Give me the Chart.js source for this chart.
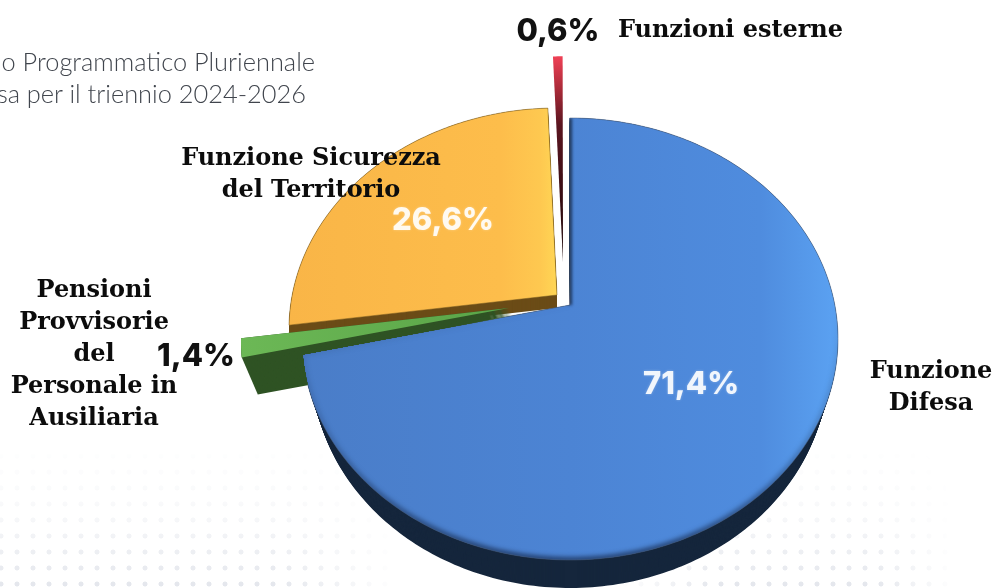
<!DOCTYPE html>
<html><head><meta charset="utf-8">
<script src="https://cdn.jsdelivr.net/npm/chart.js@4"></script>
<style>
html,body{margin:0;padding:0;background:#fff;overflow:hidden}
#wrap{position:relative;width:995px;height:588px;overflow:hidden;background:#fff}
#dots{position:absolute;left:0;top:440px;width:995px;height:148px;
 background-image:radial-gradient(circle,#d5d9e2 0 2.2px,transparent 2.8px);background-size:16px 16px;background-position:-7px 8px;
 -webkit-mask-image:linear-gradient(to bottom,transparent 0,rgba(0,0,0,.18) 50%,rgba(0,0,0,.65) 100%),linear-gradient(to right,#000 0,#000 28%,transparent 40%,transparent 62%,#000 72%,#000 88%,transparent 96%);
 -webkit-mask-composite:source-in;mask-composite:intersect}
canvas{position:absolute;left:0;top:0}
.t{position:absolute;white-space:nowrap;line-height:1}
.c{transform:translate(-50%,-50%);text-align:center}
.s{font-family:"DejaVu Serif";font-weight:700;font-size:24px;color:#0c0c0c;letter-spacing:-.05px}
.p{font-family:Inter,"Open Sans";font-weight:800;font-size:31px;color:#111}
.w{color:#fff;opacity:.92;text-shadow:0 0 3px rgba(255,255,255,.35)}
.b{font-family:Lato;font-weight:300;font-size:25.4px;color:#40454d}
</style></head>
<body><div id="wrap"><div id="dots"></div><canvas id="c" width="995" height="588"></canvas></div>
<script>
const categories=['Funzione Sicurezza del Territorio','Funzioni esterne','Funzione Difesa','Pensioni Provvisorie del Personale in Ausiliaria'];
const values=[26.6,0.6,71.4,1.4];
const sliceLines=[['Funzione Sicurezza','del Territorio'],['Funzioni esterne'],['Funzione','Difesa'],['Pensioni','Provvisorie','del','Personale in','Ausiliaria']];
const introLines=['o Programmatico Pluriennale','sa per il triennio 2024-2026'];

const W=995,H=588;
const K=.8,RX=268,RY=221,CY=34;
const look=[
 {ax:557,ay:295,ex:0,ey:13,side:'#6b4c17',stops:[[287,'#f9b547'],[500,'#fdbd4b'],[540,'#fec850'],[557,'#ffd655']],dir:'h',rim:'rgba(120,90,30,.5)'},
 {ax:563,ay:262,r:1.1,ex:0,ey:0,side:'#000',stops:[[57,'#ee4055'],[90,'#a82a38'],[125,'#5a1520'],[262,'#1a0608']],dir:'v'},
 {ax:570,ay:305,ex:0,ey:28,rxs:258/268,side:'#15263c',stops:[[302,'#4a7dc8'],[570,'#4c84d4'],[760,'#4f8cde'],[838,'#5ba2f2']],dir:'h',rim:'rgba(70,90,120,.5)',inner:true},
 {ax:509,ay:308,ex:16,ey:37,side:'#2f5324',stops:[[240,'#6cb856'],[505,'#5aa548']],dir:'h'}
];
let blueTop=null;
function edge(a,c,rxs){
  const dx=Math.cos(a),dy=K*Math.sin(a),rx=RX*(rxs||1);
  const A=dx*dx/(rx*rx)+dy*dy/(RY*RY),B=-2*dy*CY/(RY*RY),C=CY*CY/(RY*RY)-1;
  const t=(-B+Math.sqrt(B*B-4*A*C))/(2*A)*(c.r||1);
  return [c.ax+dx*t,c.ay+dy*t];
}
function slicePath(el,c,ox,oy,rxs){
  const p=new Path2D();
  p.moveTo(c.ax+ox,c.ay+oy);
  const n=Math.max(4,Math.ceil((el.endAngle-el.startAngle)*60));
  for(let i=0;i<=n;i++){
    const q=edge(el.startAngle+(el.endAngle-el.startAngle)*i/n,c,rxs);
    p.lineTo(q[0]+ox,q[1]+oy);
  }
  p.closePath();
  return p;
}
Chart.ArcElement.prototype.draw=function(ctx){
  const i=this.$context.index,c=look[i];
  ctx.save();
  if(c.ey){
    ctx.save();
    if(i===3&&blueTop){const m=new Path2D();m.rect(0,0,W,H);m.addPath(blueTop);ctx.clip(m,'evenodd');}
    ctx.fillStyle=c.side;
    const steps=c.ey;
    for(let s=steps;s>=0;s--){
      const f=s/steps;
      ctx.fill(slicePath(this,c,c.ex*f,c.ey*f,c.rxs?1-(1-c.rxs)*f:1));
    }
    ctx.restore();
  }
  const top=slicePath(this,c,0,0,1);
  const g=c.dir==='h'?ctx.createLinearGradient(c.stops[0][0],0,c.stops[c.stops.length-1][0],0):ctx.createLinearGradient(0,c.stops[0][0],0,c.stops[c.stops.length-1][0]);
  const s0=c.stops[0][0],s1=c.stops[c.stops.length-1][0];
  c.stops.forEach(s=>g.addColorStop((s[0]-s0)/(s1-s0),s[1]));
  ctx.fillStyle=g;ctx.fill(top);
  if(c.inner){
    ctx.save();ctx.clip(top);
    const sg=ctx.createLinearGradient(0,300,0,560);
    sg.addColorStop(0,'rgba(20,40,75,0)');sg.addColorStop(.55,'rgba(20,40,75,.3)');sg.addColorStop(1,'rgba(15,30,60,.8)');
    ctx.strokeStyle=sg;ctx.lineWidth=5;ctx.filter='blur(2.5px)';ctx.stroke(top);
    ctx.filter='blur(1.5px)';ctx.strokeStyle='rgba(15,30,55,.75)';ctx.lineWidth=4;
    ctx.beginPath();ctx.moveTo(570,118);ctx.lineTo(570,305);ctx.stroke();
    ctx.restore();
    blueTop=top;
  }
  if(c.rim){ctx.strokeStyle=c.rim;ctx.lineWidth=1;ctx.stroke(top);}
  ctx.restore();
};
new Chart(document.getElementById('c'),{
  type:'pie',
  data:{labels:categories,datasets:[{data:values,borderWidth:0,backgroundColor:['#fdbb4a','#c32c3c','#4c84d4','#64ae4f']}]},
  options:{responsive:false,animation:false,events:[],rotation:262,plugins:{legend:{display:false},tooltip:{enabled:false}},layout:{padding:0}}
});
const wrap=document.getElementById('wrap');
function add(txt,cls,x,y,extra){const d=document.createElement('div');d.className='t '+cls;d.textContent=txt;d.style.left=x+'px';d.style.top=y+'px';if(extra)Object.assign(d.style,extra);wrap.appendChild(d);}
const fmt=v=>v.toFixed(1).replace('.',',')+'%';
add(introLines[0],'b',0,49,{left:'auto',right:(W-315)+'px'});
add(introLines[1],'b',0,81,{left:'auto',right:(W-306)+'px'});
const lh=32;
const centers=[[311,157],null,[931,370],[94,289]];
sliceLines.forEach((ls,i)=>{
  if(!centers[i])return;
  ls.forEach((l,j)=>add(l,'s c',centers[i][0],centers[i][1]+j*lh));
});
add(sliceLines[1][0],'s',618,17);
add(fmt(values[0]),'p w c',443,218);
add(fmt(values[1]),'p c',558,29);
add(fmt(values[2]),'p w c',691,382);
add(fmt(values[3]),'p c',196,354);
</script></body></html>
